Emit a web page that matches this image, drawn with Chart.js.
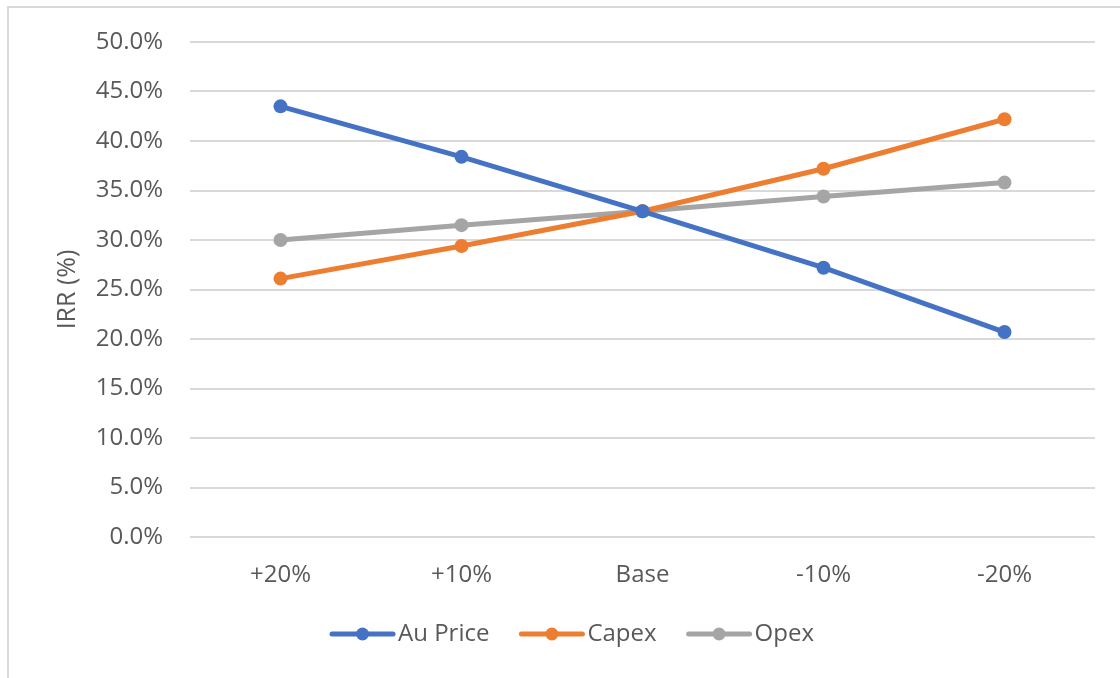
<!DOCTYPE html>
<html>
<head>
<meta charset="utf-8">
<title>IRR Sensitivity</title>
<script src="https://cdn.jsdelivr.net/npm/chart.js@4/dist/chart.umd.min.js"></script>
<style>
  html, body { margin: 0; padding: 0; background: #ffffff; }
  #wrap { width: 1120px; height: 678px; }
</style>
</head>
<body>
<div id="wrap"><canvas id="chart" width="1120" height="678"></canvas></div>
<script>
// Sensitivity cases along the x axis
const scenarios = ['+20%', '+10%', 'Base', '-10%', '-20%'];

// IRR (%) for each driver under each case
const auPrice = [43.5, 38.4, 32.9, 27.2, 20.7];
const capex   = [26.1, 29.4, 32.9, 37.2, 42.2];
const opex    = [30.0, 31.5, 32.9, 34.4, 35.8];

const seriesNames = ['Au Price', 'Capex', 'Opex'];
const seriesColors = ['#4472C4', '#ED7D31', '#A5A5A5'];

const FONT = "'Open Sans', 'DejaVu Sans', sans-serif";
const TEXT = '#595959';

function makeSeries(label, data, color) {
  return {
    label: label,
    data: data,
    borderColor: color,
    backgroundColor: color,
    pointBackgroundColor: color,
    pointBorderColor: color,
    borderWidth: 5,
    pointRadius: 7,
    pointHoverRadius: 7,
    pointBorderWidth: 0,
    tension: 0,
    fill: false
  };
}

// Light frame along the top and left of the chart
const framePlugin = {
  id: 'frame',
  beforeDraw(chart) {
    const ctx = chart.ctx;
    ctx.save();
    ctx.fillStyle = '#ffffff';
    ctx.fillRect(0, 0, chart.width, chart.height);
    ctx.strokeStyle = '#d9d9d9';
    ctx.lineWidth = 2;
    ctx.beginPath();
    ctx.moveTo(8, chart.height + 5);
    ctx.lineTo(8, 7);
    ctx.lineTo(chart.width + 5, 7);
    ctx.stroke();
    ctx.restore();
  }
};

// Legend entries drawn as a short line with a marker in the middle
const lineLegendPlugin = {
  id: 'lineLegend',
  afterDraw(chart) {
    const ctx = chart.ctx;
    const sets = chart.data.datasets;
    const lineLen = 65, gapText = 3, gapItem = 30, centerX = 572, y = 634;
    ctx.save();
    ctx.font = '24px ' + FONT;
    ctx.textBaseline = 'middle';
    const widths = sets.map(d => lineLen + gapText + ctx.measureText(d.label).width);
    const total = widths.reduce((a, b) => a + b, 0) + gapItem * (sets.length - 1);
    let x = centerX - total / 2;
    sets.forEach((d, i) => {
      ctx.strokeStyle = d.borderColor;
      ctx.fillStyle = d.borderColor;
      ctx.lineWidth = 5;
      ctx.lineCap = 'round';
      ctx.beginPath();
      ctx.moveTo(x + 2, y);
      ctx.lineTo(x + lineLen - 2, y);
      ctx.stroke();
      ctx.beginPath();
      ctx.arc(x + lineLen / 2, y, 6.5, 0, Math.PI * 2);
      ctx.fill();
      ctx.fillStyle = TEXT;
      ctx.textAlign = 'left';
      ctx.fillText(d.label, x + lineLen + gapText, y);
      x += widths[i] + gapItem;
    });
    ctx.restore();
  }
};

new Chart(document.getElementById('chart'), {
  type: 'line',
  data: {
    labels: scenarios,
    datasets: [
      makeSeries(seriesNames[0], auPrice, seriesColors[0]),
      makeSeries(seriesNames[1], capex, seriesColors[1]),
      makeSeries(seriesNames[2], opex, seriesColors[2])
    ]
  },
  options: {
    responsive: false,
    animation: false,
    devicePixelRatio: 1,
    layout: { padding: { top: 42, right: 25, bottom: 0, left: 0 } },
    plugins: {
      legend: { display: false },
      tooltip: { enabled: false }
    },
    scales: {
      x: {
        offset: true,
        grid: { display: false, drawTicks: false },
        border: { display: false },
        ticks: {
          color: TEXT,
          font: { family: FONT, size: 24 },
          padding: 24,
          maxRotation: 0
        },
        afterFit(scale) { scale.height = 141; }
      },
      y: {
        min: 0,
        max: 50,
        grid: { color: '#d9d9d9', lineWidth: 2, drawTicks: false },
        border: { display: false },
        ticks: {
          stepSize: 5,
          color: TEXT,
          font: { family: FONT, size: 24 },
          padding: 27,
          callback: v => v.toFixed(1) + '%'
        },
        title: {
          display: true,
          text: 'IRR (%)',
          color: TEXT,
          font: { family: FONT, size: 25 },
          padding: { top: 53, bottom: 0 }
        },
        afterFit(scale) { scale.width = 190; }
      }
    }
  },
  plugins: [framePlugin, lineLegendPlugin]
});
</script>
</body>
</html>
